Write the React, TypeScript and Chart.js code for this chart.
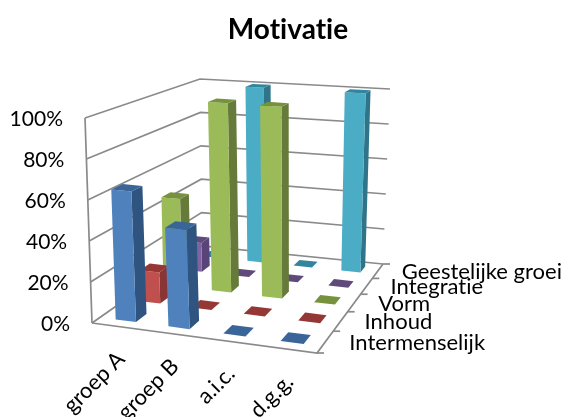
import React, { useEffect, useRef } from "react";
import { Chart, registerables } from "chart.js";

Chart.register(...registerables);

const categories = ["groep A", "groep B", "a.i.c.", "d.g.g."];
const intermenselijk = [64, 48, 0, 0];
const inhoud = [16, 0, 0, 0];
const vorm = [47, 100, 100, 0];
const integratie = [16, 0, 0, 0];
const geestelijkeGroei = [0, 100, 0, 100];

const seriesNames = ["Intermenselijk", "Inhoud", "Vorm", "Integratie", "Geestelijke groei"];
const seriesValues = [intermenselijk, inhoud, vorm, integratie, geestelijkeGroei];
// front, top and side colours per series
const frontColors = ["#4F81BD", "#C0504D", "#9BBB59", "#8064A2", "#4BACC6"];
const topColors = ["#3A6599", "#953735", "#76923C", "#604A7B", "#31859C"];
const sideColors = ["#2F5480", "#8A3533", "#667B3A", "#59447A", "#2F7488"];

const FONT = "Lato, 'Noto Sans', sans-serif";
const GRID = "#8A8A8A";

// View of the 3D box: unit floor and ceiling corners [front-left, front-right, back-right, back-left]
type P = [number, number];
const floorQuad: P[] = [[92, 323], [317, 353], [383, 264], [202, 246]];
const ceilQuad: P[] = [[85, 118], [320, 138], [390, 89], [200, 79]];
const BAR_W = 0.39; // of a category slot
const BAR_D = 0.42; // of a series slot

function homography(q: P[]) {
  const [[x0, y0], [x1, y1], [x2, y2], [x3, y3]] = q;
  const dx1 = x1 - x2, dx2 = x3 - x2, sx = x0 - x1 + x2 - x3;
  const dy1 = y1 - y2, dy2 = y3 - y2, sy = y0 - y1 + y2 - y3;
  const den = dx1 * dy2 - dx2 * dy1;
  const g = (sx * dy2 - dx2 * sy) / den;
  const h = (dx1 * sy - sx * dy1) / den;
  const a = x1 - x0 + g * x1, b = x3 - x0 + h * x3;
  const d = y1 - y0 + g * y1, e = y3 - y0 + h * y3;
  return (u: number, w: number): P => {
    const k = g * u + h * w + 1;
    return [(a * u + b * w + x0) / k, (d * u + e * w + y0) / k];
  };
}
const floorH = homography(floorQuad);
const ceilH = homography(ceilQuad);
const project = (u: number, w: number, v: number): P => {
  const f = floorH(u, w), c = ceilH(u, w);
  return [f[0] + (c[0] - f[0]) * v, f[1] + (c[1] - f[1]) * v];
};

function poly(ctx: CanvasRenderingContext2D, pts: P[], fill: string) {
  ctx.beginPath();
  pts.forEach((p, i) => (i ? ctx.lineTo(p[0], p[1]) : ctx.moveTo(p[0], p[1])));
  ctx.closePath();
  ctx.fillStyle = fill;
  ctx.fill();
}
function line(ctx: CanvasRenderingContext2D, pts: P[]) {
  ctx.beginPath();
  pts.forEach((p, i) => (i ? ctx.lineTo(p[0], p[1]) : ctx.moveTo(p[0], p[1])));
  ctx.stroke();
}

const scaleU = (chart: any, i: number) => {
  const x = chart.scales.x;
  return (x.getPixelForValue(i) - x.left) / x.width;
};
const scaleV = (chart: any, val: number) => {
  const y = chart.scales.y;
  return (y.bottom - y.getPixelForValue(val)) / y.height;
};

const box3d = {
  id: "box3d",
  beforeDraw(chart: any) {
    // a hair of spacing keeps the "ti" pair as two separate letters
    chart.ctx.letterSpacing = "0.01px";
  },
  beforeDatasetsDraw(chart: any) {
    const ctx = chart.ctx as CanvasRenderingContext2D;
    ctx.save();
    ctx.strokeStyle = GRID;
    ctx.lineWidth = 1.7;
    ctx.lineJoin = "miter";
    chart.scales.y.ticks.forEach((t: any) => {
      const v = scaleV(chart, t.value);
      line(ctx, [project(0, 0, v), project(0, 1, v), project(1, 1, v)]);
    });
    line(ctx, [project(0, 0, 0), project(0, 0, 1)]);
    line(ctx, [project(0, 0, 0), project(1, 0, 0), project(1, 1, 0)]);
    const n = chart.data.datasets.length;
    for (let i = 0; i <= n; i++) {
      const p = project(1, i / n, 0);
      line(ctx, [p, [p[0] + 7, p[1]]]);
    }
    ctx.restore();
  },
  beforeDatasetDraw(chart: any, args: any) {
    const ctx = chart.ctx as CanvasRenderingContext2D;
    const ds = args.index as number;
    const n = chart.data.datasets.length;
    const slotU = 1 / chart.data.labels.length;
    const w0 = (ds + 0.5 - BAR_D / 2) / n;
    const w1 = (ds + 0.5 + BAR_D / 2) / n;
    const data = chart.data.datasets[ds].data as number[];
    data.forEach((val, i) => {
      const c = scaleU(chart, i);
      const u0 = c - (slotU * BAR_W) / 2;
      const u1 = c + (slotU * BAR_W) / 2;
      const v = scaleV(chart, val);
      if (v > 0) {
        poly(ctx, [project(u1, w0, 0), project(u1, w1, 0), project(u1, w1, v), project(u1, w0, v)], sideColors[ds]);
        poly(ctx, [project(u0, w0, 0), project(u1, w0, 0), project(u1, w0, v), project(u0, w0, v)], frontColors[ds]);
      }
      poly(ctx, [project(u0, w0, v), project(u1, w0, v), project(u1, w1, v), project(u0, w1, v)], topColors[ds]);
    });
    return false;
  },
  afterDraw(chart: any) {
    const ctx = chart.ctx as CanvasRenderingContext2D;
    ctx.save();
    ctx.fillStyle = "#000";
    ctx.textBaseline = "middle";
    // value labels along the front wall edge
    ctx.font = `21px ${FONT}`;
    ctx.textAlign = "right";
    chart.scales.y.ticks.forEach((t: any) => {
      const p = project(0, 0, scaleV(chart, t.value));
      ctx.fillText(t.label, p[0] - 22, p[1] + 1);
    });
    // series labels along the right floor edge
    ctx.font = `22px ${FONT}`;
    ctx.textAlign = "left";
    const n = chart.data.datasets.length;
    chart.data.datasets.forEach((d: any, i: number) => {
      const p = project(1, (i + 0.5) / n, 0);
      ctx.fillText(d.label, p[0] + 24, p[1] + 1);
    });
    // category labels under the front floor edge
    ctx.textAlign = "right";
    chart.data.labels.forEach((l: string, i: number) => {
      const p = project(scaleU(chart, i), 0, 0);
      ctx.save();
      ctx.translate(p[0] + 3, p[1] + 29);
      ctx.rotate(-Math.PI / 4);
      ctx.fillText(l, 0, 0);
      ctx.restore();
    });
    ctx.restore();
  },
};

export default function App() {
  const ref = useRef<HTMLCanvasElement>(null);
  useEffect(() => {
    const chart = new Chart(ref.current as HTMLCanvasElement, {
      type: "bar",
      data: {
        labels: categories,
        datasets: seriesNames.map((label, i) => ({
          label,
          data: seriesValues[i],
          backgroundColor: frontColors[i],
        })),
      },
      options: {
        responsive: false,
        animation: false,
        devicePixelRatio: 1,
        layout: { padding: { left: 92, right: 78, top: 0, bottom: 94 } },
        plugins: {
          legend: { display: false },
          tooltip: { enabled: false },
          title: {
            display: true,
            text: "Motivatie",
            color: "#000",
            font: { family: FONT, size: 28, weight: "bold", lineHeight: 1.2 },
            padding: { top: 13, bottom: 71 },
          },
        },
        scales: {
          x: { display: false, offset: true },
          y: {
            display: false,
            min: 0,
            max: 100,
            ticks: { stepSize: 20, callback: (v: any) => `${v}%` },
          },
        },
      },
      plugins: [box3d],
    } as any);
    return () => chart.destroy();
  }, []);
  return (
    <div style={{ position: "absolute", left: 0, top: 0, width: 562, height: 417, background: "#fff" }}>
      <canvas ref={ref} width={562} height={417} style={{ display: "block", filter: "blur(0.4px)" }} />
    </div>
  );
}
